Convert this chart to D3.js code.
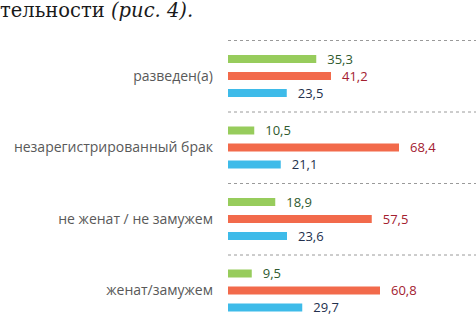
<!DOCTYPE html>
<html>
<head>
<meta charset="utf-8">
<script src="https://cdn.jsdelivr.net/npm/d3@7"></script>
<style>
  body { margin: 0; background: #fff; }
  svg { display: block; }
</style>
</head>
<body>
<div id="chart"></div>
<script>
// categories top to bottom
const categories = ["разведен(а)", "незарегистрированный брак", "не женат / не замужем", "женат/замужем"];
const seriesKeys = ["green", "red", "blue"];
const greenValues = [35.3, 10.5, 18.9, 9.5];
const redValues = [41.2, 68.4, 57.5, 60.8];
const blueValues = [23.5, 21.1, 23.6, 29.7];

const barColors = { green: "#97cc5c", red: "#f26a4b", blue: "#3ebbe9" };
const labelColors = { green: "#2f5a2f", red: "#a3202f", blue: "#23304d" };

const width = 476, height = 316;
const values = { green: greenValues, red: redValues, blue: blueValues };

const rows = categories.map((c, i) => ({
  category: c,
  bars: seriesKeys.map(k => ({ key: k, value: values[k][i] }))
}));

const svg = d3.select("#chart").append("svg")
  .attr("width", width)
  .attr("height", height);

// caption fragment from the document text above the chart
const cap = svg.append("text")
  .attr("x", 0)
  .attr("y", 17)
  .attr("font-family", "DejaVu Serif, serif")
  .attr("font-size", "19.5px")
  .attr("fill", "#1a1a1a");
cap.append("tspan").text("тельности ");
cap.append("tspan").attr("font-style", "italic").text("(рис. 4).");

const x = d3.scaleLinear()
  .domain([0, 100])
  .range([228, 478]);

const y = d3.scaleBand()
  .domain(categories)
  .range([40, 326])
  .padding(0);

const yInner = d3.scaleBand()
  .domain(seriesKeys)
  .range([15, 57])
  .paddingInner(9 / 17)
  .paddingOuter(0);

const groups = svg.selectAll(".group")
  .data(rows)
  .enter().append("g")
  .attr("class", "group")
  .attr("transform", d => `translate(0,${y(d.category)})`);

// dashed separators
groups.append("line")
  .attr("x1", x(0))
  .attr("x2", width)
  .attr("y1", 0.5)
  .attr("y2", 0.5)
  .attr("stroke", "#9a9a9a")
  .attr("stroke-width", 1)
  .attr("stroke-dasharray", "3,3");

groups.append("text")
  .attr("x", 213)
  .attr("y", yInner("red") + yInner.bandwidth() / 2)
  .attr("dy", "0.35em")
  .attr("text-anchor", "end")
  .attr("font-family", "Open Sans, sans-serif")
  .attr("font-size", "14px")
  .attr("fill", "#595959")
  .text(d => d.category);

groups.selectAll("rect")
  .data(d => d.bars)
  .enter().append("rect")
  .attr("x", x(0))
  .attr("y", d => yInner(d.key))
  .attr("width", d => x(d.value) - x(0))
  .attr("height", yInner.bandwidth())
  .attr("fill", d => barColors[d.key]);

groups.selectAll(".val")
  .data(d => d.bars)
  .enter().append("text")
  .attr("class", "val")
  .attr("x", d => x(d.value) + 11)
  .attr("y", d => yInner(d.key) + yInner.bandwidth() / 2)
  .attr("dy", "0.35em")
  .attr("font-family", "Open Sans, sans-serif")
  .attr("font-size", "13px")
  .attr("fill", d => labelColors[d.key])
  .text(d => d3.format(".1f")(d.value).replace(".", ","));
</script>
</body>
</html>
